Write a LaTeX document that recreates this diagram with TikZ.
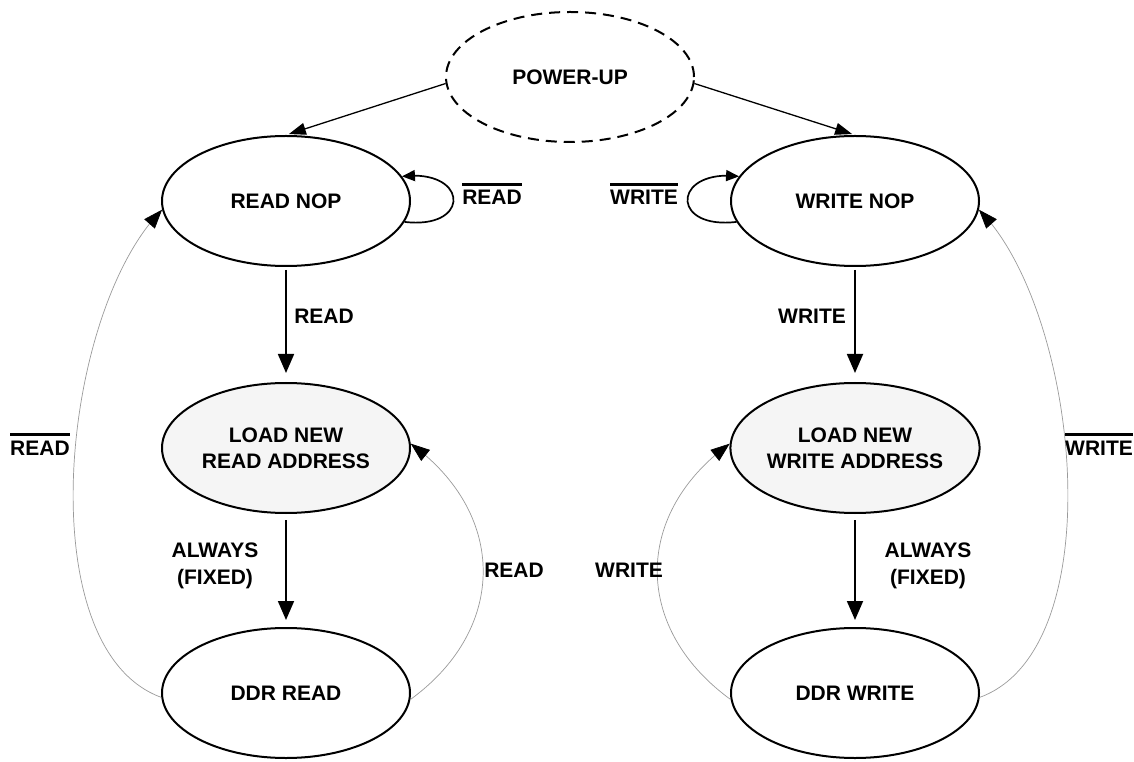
\documentclass[tikz,border=0pt]{standalone}
\usepackage{fontspec}
\setmainfont{Liberation Sans}
\usetikzlibrary{shapes.geometric,arrows.meta,bending}
\newcommand{\ovl}[1]{\vbox{\hrule height 3pt\kern 5pt\hbox{#1}}}
\definecolor{statefill}{HTML}{F5F5F5}
\definecolor{arcgray}{HTML}{9A9A9A}
\begin{document}
\begin{tikzpicture}[x=1pt,y=1pt,
  state/.style={ellipse,draw,line width=2pt,minimum width=248pt,minimum height=130pt,
    inner sep=0pt,align=center,font=\bfseries\fontsize{21}{26}\selectfont},
  loadstate/.style={state,fill=statefill},
  startstate/.style={state,line width=2pt,dash pattern=on 11pt off 7pt},
  lbl/.style={font=\bfseries\fontsize{21}{27}\selectfont,inner sep=0pt,align=center},
  mainarrow/.style={line width=1.8pt,-{Triangle[length=19pt,width=16pt]}},
  puarrow/.style={line width=1.3pt,-{Triangle[length=17pt,width=12pt]}},
  looparrow/.style={line width=1.7pt,-{Triangle[length=13pt,width=11pt]}},
  backarrow/.style={line width=0.7pt,draw=arcgray,-{Triangle[length=19pt,width=14pt,color=black]}}
]
\path[use as bounding box] (0,0) rectangle (1134,761);

% states
\node[startstate] (pu) at (570,684) {POWER-UP};
\node[state] (rn) at (286,560) {READ NOP};
\node[state] (wn) at (855,560) {WRITE NOP};
\node[loadstate] (rl) at (286,313) {LOAD NEW\\READ ADDRESS};
\node[loadstate] (wl) at (855,313) {LOAD NEW\\WRITE ADDRESS};
\node[state] (rd) at (286,68) {DDR READ};
\node[state] (wd) at (855,68) {DDR WRITE};

% power-up arrows
\draw[puarrow,shorten >=3pt] (pu.183) -- (rn.north);
\draw[puarrow,shorten >=3pt] (pu.-3) -- (wn.north);

% self loops
\draw[looparrow] (rn.-10) .. controls +(67,-8) and +(67,8) .. (rn.12);
\draw[looparrow] (wn.190) .. controls +(-67,-8) and +(-67,8) .. (wn.168);

% forward arrows
\draw[mainarrow,shorten <=3pt,shorten >=9pt] (rn.south) -- (rl.north);
\draw[mainarrow,shorten <=6pt,shorten >=7pt] (rl.south) -- (rd.north);
\draw[mainarrow,shorten <=3pt,shorten >=9pt] (wn.south) -- (wl.north);
\draw[mainarrow,shorten <=6pt,shorten >=7pt] (wl.south) -- (wd.north);

% back arcs
\draw[backarrow] (rd.182) to[out=160,in=-135,looseness=0.75] (rn.184);
\draw[backarrow] (wd.-2) to[out=20,in=-45,looseness=0.75] (wn.-4);
\draw[backarrow] (rd.-3) to[out=36,in=-36,looseness=1.2] (rl.2);
\draw[backarrow] (wd.183) to[out=144,in=-144,looseness=1.2] (wl.178);

% labels
\node[lbl,anchor=base] (lreadloop) at (492,556) {\ovl{READ}};
\node[lbl,anchor=base] (lwriteloop) at (644,556) {\ovl{WRITE}};
\node[lbl,anchor=base] (lreadback) at (40,306) {\ovl{READ}};
\node[lbl,anchor=base] (lwriteback) at (1099,306) {\ovl{WRITE}};
\node[lbl,anchor=base] (lread) at (324,437) {READ};
\node[lbl,anchor=base] (lwrite) at (812,437) {WRITE};
\node[lbl] (lalwaysr) at (215,195) {ALWAYS\\(FIXED)};
\node[lbl] (lalwaysw) at (928,195) {ALWAYS\\(FIXED)};
\node[lbl] (lreadin) at (514,191) {READ};
\node[lbl] (lwritein) at (629,191) {WRITE};
\end{tikzpicture}
\end{document}
